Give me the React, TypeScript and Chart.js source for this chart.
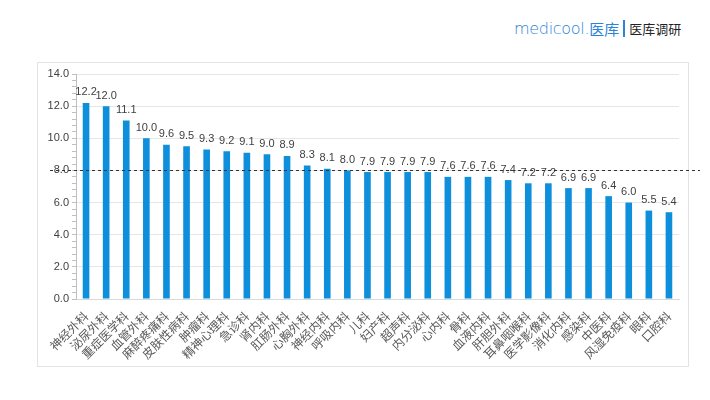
import React, { useEffect, useRef } from "react";
import { Chart, registerables } from "chart.js";

Chart.register(...registerables);

const categories = [
  "神经外科", "泌尿外科", "重症医学科", "血管外科", "麻醉疼痛科", "皮肤性病科",
  "肿瘤科", "精神心理科", "急诊科", "肾内科", "肛肠外科", "心胸外科",
  "神经内科", "呼吸内科", "儿科", "妇产科", "超声科", "内分泌科",
  "心内科", "骨科", "血液内科", "肝胆外科", "耳鼻咽喉科", "医学影像科",
  "消化内科", "感染科", "中医科", "风湿免疫科", "眼科", "口腔科",
];

const values = [
  12.2, 12.0, 11.1, 10.0, 9.6, 9.5,
  9.3, 9.2, 9.1, 9.0, 8.9, 8.3,
  8.1, 8.0, 7.9, 7.9, 7.9, 7.9,
  7.6, 7.6, 7.6, 7.4, 7.2, 7.2,
  6.9, 6.9, 6.4, 6.0, 5.5, 5.4,
];

const referenceLine = 8.0;
const yMin = 0;
const yMax = 14;
const yMinorStep = 0.4;
const yMajorStep = 2;

const isMajor = (v: number) =>
  Math.abs(v / yMajorStep - Math.round(v / yMajorStep)) < 1e-6;

const valueLabelPlugin = {
  id: "valueLabels",
  afterDatasetsDraw(chart: any) {
    const { ctx } = chart;
    const meta = chart.getDatasetMeta(0);
    ctx.save();
    ctx.font = '11px "Liberation Sans", Arial, sans-serif';
    ctx.fillStyle = "#404040";
    ctx.textAlign = "center";
    ctx.textBaseline = "bottom";
    meta.data.forEach((bar: any, i: number) => {
      const v = chart.data.datasets[0].data[i] as number;
      ctx.fillText(v.toFixed(1), bar.x, bar.y - 5);
    });
    ctx.restore();
  },
};

const dashedLinePlugin = {
  id: "dashedLine",
  afterDatasetsDraw(chart: any) {
    const { ctx, chartArea, scales } = chart;
    const y = Math.round(scales.y.getPixelForValue(referenceLine)) + 0.5;
    ctx.save();
    ctx.strokeStyle = "#333333";
    ctx.lineWidth = 1;
    ctx.setLineDash([3, 3]);
    ctx.beginPath();
    ctx.moveTo(chartArea.left - 26, y);
    ctx.lineTo(chartArea.right + 21, y);
    ctx.stroke();
    ctx.restore();
  },
};

export default function App() {
  const canvasRef = useRef<HTMLCanvasElement | null>(null);

  useEffect(() => {
    if (!canvasRef.current) return;
    const chart = new Chart(canvasRef.current, {
      type: "bar",
      data: {
        labels: categories,
        datasets: [
          {
            data: values,
            backgroundColor: "#0E8FDC",
            borderWidth: 0,
            barPercentage: 0.33,
            categoryPercentage: 1,
          },
        ],
      },
      options: {
        animation: false,
        responsive: false,
        maintainAspectRatio: false,
        layout: { padding: { left: 0, right: 31, top: 74, bottom: 0 } },
        plugins: {
          legend: { display: false },
          tooltip: { enabled: false },
        },
        scales: {
          x: {
            afterFit(scale: any) {
              scale.height = 101;
            },
            grid: { display: false },
            border: { display: true, color: "#d9d9d9" },
            ticks: {
              autoSkip: false,
              maxRotation: 45,
              minRotation: 45,
              padding: 2,
              color: "#595959",
              font: { size: 12, family: '"Noto Sans CJK SC", sans-serif' },
            },
          },
          y: {
            min: yMin,
            max: yMax,
            afterFit(scale: any) {
              scale.width = 76;
            },
            border: { display: true, color: "#bfbfbf" },
            grid: {
              color: (ctx: any) =>
                ctx.tick && isMajor(ctx.tick.value) ? "#e6e6e6" : "rgba(0,0,0,0)",
              tickColor: "#bfbfbf",
              tickLength: 4,
            },
            ticks: {
              stepSize: yMinorStep,
              autoSkip: false,
              padding: 3,
              color: "#404040",
              font: { size: 11, family: '"Liberation Sans", Arial, sans-serif' },
              callback: (v: any) => (isMajor(Number(v)) ? Number(v).toFixed(1) : ""),
            },
          },
        },
      },
      plugins: [valueLabelPlugin, dashedLinePlugin],
    });
    return () => chart.destroy();
  }, []);

  return (
    <div style={{ position: "absolute", left: 0, top: 0, width: 710, height: 400, background: "#fff", overflow: "hidden" }}>
      <div
        style={{
          position: "absolute",
          left: 37,
          top: 62,
          width: 650,
          height: 303,
          border: "1px solid #e3e3e3",
        }}
      />
      <div
        style={{
          position: "absolute",
          left: 514,
          top: 17,
          height: 22,
          display: "flex",
          alignItems: "center",
          whiteSpace: "nowrap",
          fontFamily: '"Noto Sans CJK SC", sans-serif',
        }}
      >
        <span style={{ color: "#2B84D6", fontSize: 16, fontFamily: '"DejaVu Sans", sans-serif', fontWeight: 300, letterSpacing: -0.3 }}>
          medicool.
        </span>
        <span style={{ color: "#2B84D6", fontSize: 15 }}>医库</span>
        <span style={{ display: "inline-block", width: 2, height: 17, background: "#2B84D6", margin: "0 4px" }} />
        <span style={{ color: "#222", fontSize: 13 }}>医库调研</span>
      </div>
      <canvas ref={canvasRef} width={710} height={400} style={{ position: "absolute", left: 0, top: 0 }} />
    </div>
  );
}
